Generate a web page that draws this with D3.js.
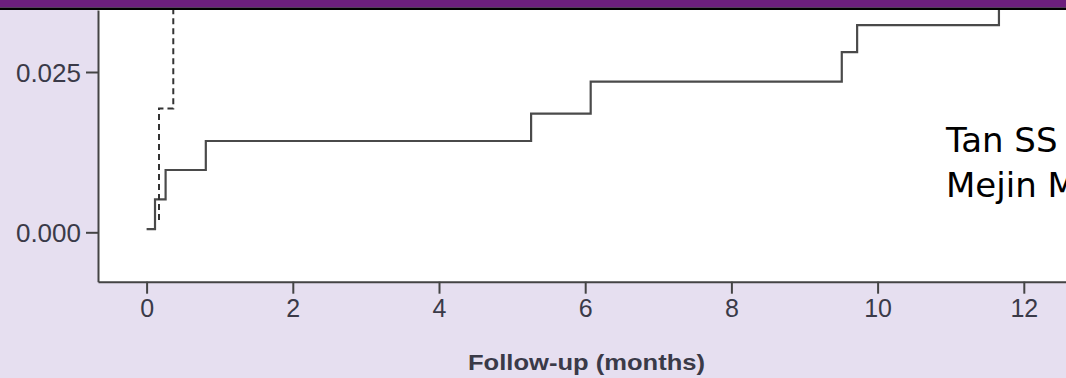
<!DOCTYPE html>
<html>
<head>
<meta charset="utf-8">
<script src="https://cdn.jsdelivr.net/npm/d3@7"></script>
<style>
  html, body { margin: 0; padding: 0; background: #e6dff0; overflow: hidden; }
  svg { display: block; }
</style>
</head>
<body>
<svg id="chart" width="1066" height="378"></svg>
<script>
// ---------- DATA ----------
const xTicks = [0, 2, 4, 6, 8, 10, 12];
const yTicks = [0.000, 0.025];
const xTitle = "Follow-up (months)";

// solid curve (step after)
const solidTimes  = [0, 0.115, 0.26, 0.81, 5.26, 6.075, 9.51, 9.72, 11.66];
const solidValues = [0.0005, 0.00515, 0.00972, 0.01424, 0.0185, 0.0235, 0.0281, 0.0323, 0.040];

// dashed curve (step after)
const dashTimes  = [0.17, 0.17, 0.365];
const dashValues = [0.0019, 0.0193, 0.045];

const noteLines = ["Tan SS", "Mejin M"];

// ---------- LAYOUT ----------
const W = 1066, H = 378;
const plot = { left: 98, top: 10, right: 1066, bottom: 281.7 };

const svg = d3.select("#chart");

svg.append("rect").attr("width", W).attr("height", H).attr("fill", "#e6dff0");
svg.append("rect")
  .attr("x", plot.left).attr("y", plot.top)
  .attr("width", plot.right - plot.left).attr("height", plot.bottom - plot.top)
  .attr("fill", "#ffffff");

// header band
svg.append("rect").attr("x", 0).attr("y", 0).attr("width", W).attr("height", 7.5).attr("fill", "#6c1f7d");
svg.append("rect").attr("x", 0).attr("y", 7.5).attr("width", W).attr("height", 2.5).attr("fill", "#000");

// scales: 0 -> 146.6px, 12 -> 1023.8px ; 0.000 -> 232.3px, 0.025 -> 72px
const pxPerMonth = 73.1, x0 = 146.6;
const pxPerUnit = 6412, y0 = 232.3;
const x = d3.scaleLinear()
  .domain([(plot.left - x0) / pxPerMonth, (plot.right - x0) / pxPerMonth])
  .range([plot.left, plot.right]);
const y = d3.scaleLinear()
  .domain([-(plot.bottom - y0) / pxPerUnit, (y0 - plot.top) / pxPerUnit])
  .range([plot.bottom, plot.top]);

svg.append("clipPath").attr("id", "clip")
  .append("rect")
  .attr("x", plot.left).attr("y", plot.top)
  .attr("width", plot.right - plot.left).attr("height", plot.bottom - plot.top);

// ---------- AXES ----------
const axisColor = "#444";

const gx = svg.append("g")
  .attr("transform", `translate(0,${plot.bottom})`)
  .call(d3.axisBottom(x).tickValues(xTicks).tickSize(12).tickSizeOuter(0).tickPadding(6).tickFormat(d3.format("d")));
const gy = svg.append("g")
  .attr("transform", `translate(${plot.left},0)`)
  .call(d3.axisLeft(y).tickValues(yTicks).tickSize(12).tickSizeOuter(0).tickPadding(5).tickFormat(d3.format(".3f")));

[gx, gy].forEach(g => {
  g.select(".domain").attr("stroke", axisColor).attr("stroke-width", 2);
  g.selectAll(".tick line").attr("stroke", axisColor).attr("stroke-width", 2);
  g.selectAll(".tick text")
    .attr("fill", "#3a3a48")
    .style("font-family", "Liberation Sans, Arial, Helvetica, sans-serif");
});
gx.selectAll(".tick text").style("font-size", "25px");
gy.selectAll(".tick text").style("font-size", "26px").attr("dy", "0.36em");

svg.append("text")
  .attr("x", 586.5).attr("y", 370)
  .attr("text-anchor", "middle")
  .attr("textLength", 237).attr("lengthAdjust", "spacingAndGlyphs")
  .style("font-family", "Liberation Sans, Arial, Helvetica, sans-serif")
  .style("font-size", "22px").style("font-weight", "bold")
  .attr("fill", "#3a3a48")
  .text(xTitle);

// ---------- CURVES ----------
const line = d3.line().curve(d3.curveStepAfter).x(d => x(d[0])).y(d => y(d[1]));
const lines = svg.append("g").attr("clip-path", "url(#clip)");

lines.append("path")
  .datum(solidTimes.map((t, i) => [t, solidValues[i]]))
  .attr("d", line)
  .attr("fill", "none")
  .attr("stroke", "#4a4a4a")
  .attr("stroke-width", 2.2);

lines.append("path")
  .datum(dashTimes.map((t, i) => [t, dashValues[i]]))
  .attr("d", line)
  .attr("fill", "none")
  .attr("stroke", "#333")
  .attr("stroke-width", 2)
  .attr("stroke-dasharray", "6,4");

// ---------- NOTE ----------
svg.selectAll("text.note")
  .data(noteLines)
  .join("text")
  .attr("class", "note")
  .attr("x", 946)
  .attr("y", (d, i) => 152 + i * 45)
  .style("font-family", "DejaVu Sans, Verdana, sans-serif")
  .style("font-size", "34px")
  .attr("fill", "#000")
  .text(d => d);
</script>
</body>
</html>
